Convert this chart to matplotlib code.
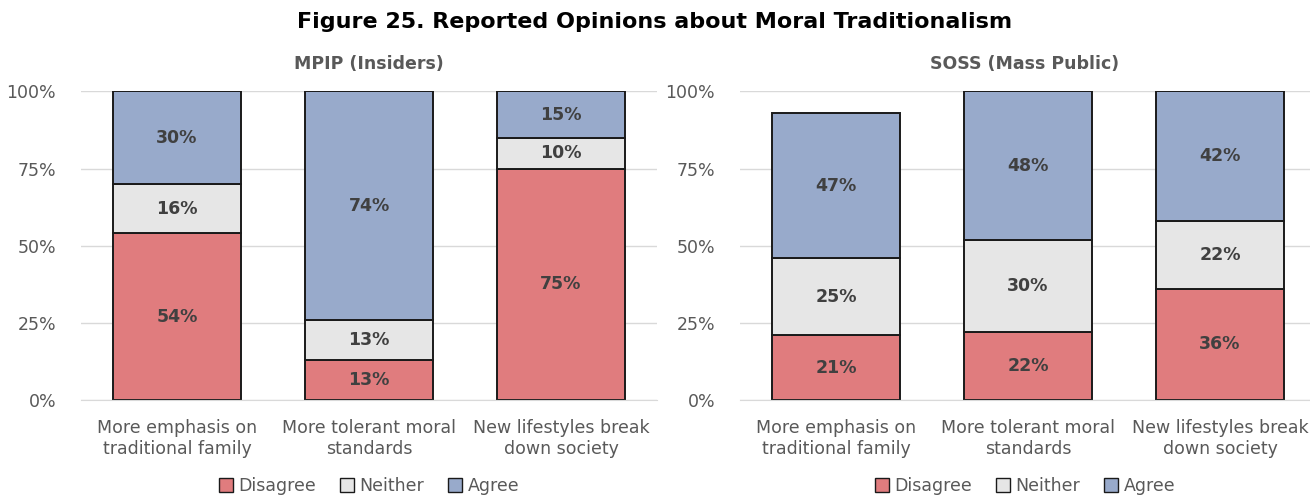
import numpy as np
import matplotlib.pyplot as plt
from matplotlib.patches import Patch

plt.rcParams['font.family'] = ['DejaVu Sans']

categories = ['More emphasis on\ntraditional family',
              'More tolerant moral\nstandards',
              'New lifestyles break\ndown society']
series_names = ['Disagree', 'Neither', 'Agree']
colors = ['#e07c7e', '#e6e6e6', '#98aacb']

# MPIP (Insiders)
mpip_disagree = [54, 13, 75]
mpip_neither = [16, 13, 10]
mpip_agree = [30, 74, 15]

# SOSS (Mass Public)
soss_disagree = [21, 22, 36]
soss_neither = [25, 30, 22]
soss_agree = [47, 48, 42]

yticks = [0, 25, 50, 75, 100]
ytick_labels = ['0%', '25%', '50%', '75%', '100%']

grey = '#595959'

fig = plt.figure(figsize=(13.1, 4.98), dpi=100)
fig.suptitle('Figure 25. Reported Opinions about Moral Traditionalism',
             x=0.5, y=0.975, fontsize=16, fontweight='bold', color='black')

ax1 = fig.add_axes([81/1310, 1 - 400/498, 576/1310, 308.5/498])
ax2 = fig.add_axes([740/1310, 1 - 400/498, 570/1310, 308.5/498])


def draw_panel(ax, title, series, xmax):
    x = np.arange(len(categories))
    bottom = np.zeros(len(categories))
    for vals, name, col in zip(series, series_names, colors):
        vals = np.array(vals, dtype=float)
        ax.bar(x, vals, 0.667, bottom=bottom, color=col, edgecolor='#1a1a1a',
               linewidth=1.4, label=name, zorder=2)
        for xi, b, v in zip(x, bottom, vals):
            ax.text(xi, b + v / 2, f'{int(v)}%', ha='center', va='center',
                    fontsize=12.5, fontweight='bold', color='#404040', zorder=3)
        bottom += vals
    ax.set_xlim(-0.5, xmax)
    ax.set_ylim(0, 100)
    ax.set_yticks(yticks)
    ax.set_yticklabels(ytick_labels)
    ax.set_xticks(x)
    ax.set_xticklabels(categories, linespacing=1.2)
    ax.tick_params(axis='both', length=0, labelsize=12.5, labelcolor=grey)
    ax.tick_params(axis='x', pad=14)
    ax.tick_params(axis='y', pad=18)
    ax.grid(axis='y', color='#d9d9d9', linewidth=1, zorder=0)
    ax.set_axisbelow(True)
    for s in ['top', 'right', 'left']:
        ax.spines[s].set_visible(False)
    ax.spines['bottom'].set_color('#d9d9d9')
    ax.set_title(title, fontsize=12.5, fontweight='bold', color=grey, pad=16)
    handles = [Patch(facecolor=c, edgecolor='#1a1a1a', linewidth=1) for c in colors]
    ax.legend(handles, series_names, loc='center', bbox_to_anchor=(0.5, -0.279),
              ncol=3, frameon=False, fontsize=12.5, labelcolor=grey,
              handlelength=0.8, handleheight=0.8, handletextpad=0.3, columnspacing=1.4,
              borderpad=0)


draw_panel(ax1, 'MPIP (Insiders)', [mpip_disagree, mpip_neither, mpip_agree], 2.5)
draw_panel(ax2, 'SOSS (Mass Public)', [soss_disagree, soss_neither, soss_agree], 2.5 - 6/192)

fig.savefig('out.png', dpi=100)
